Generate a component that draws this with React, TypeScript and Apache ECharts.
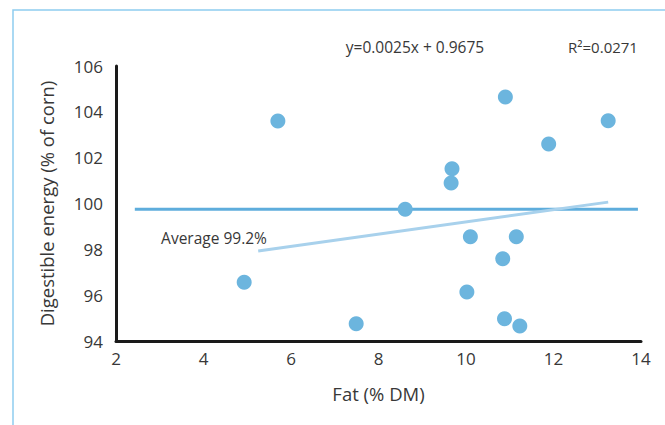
import React, { useEffect, useRef } from "react";
import * as echarts from "echarts";

const fatValues = [5.7, 4.93, 7.49, 10.9, 13.25, 11.89, 9.68, 9.66, 8.61, 10.1, 11.15, 10.84, 10.02, 10.88, 11.23];
const energyValues = [103.6, 96.56, 94.75, 104.65, 103.61, 102.6, 101.52, 100.89, 99.75, 98.55, 98.55, 97.59, 96.14, 94.97, 94.65];
const averageLine = [[2.43, 99.75], [13.93, 99.75]];
const trendLine = [[5.25, 97.93], [13.25, 100.06]];
const xTicks = { min: 2, max: 14, interval: 2 };
const yTicks = { min: 94, max: 106, interval: 2 };
const equationText = "y=0.0025x + 0.9675";
const rSquaredText = "R\u00b2=0.0271";
const averageText = "Average 99.2%";
const xTitle = "Fat (% DM)";
const yTitle = "Digestible energy (% of corn)";

const FONT = "'Open Sans', 'Noto Sans', sans-serif";
const TEXT_COLOR = "#383838";

export default function App() {
  const ref = useRef<HTMLDivElement>(null);
  useEffect(() => {
    if (!ref.current) return;
    const chart = echarts.init(ref.current, null, { renderer: "svg" });
    const points = fatValues.map((x, i) => [x, energyValues[i]]);
    chart.setOption({
      animation: false,
      backgroundColor: "#ffffff",
      textStyle: { fontFamily: FONT },
      grid: { left: 116, right: 24, top: 66, bottom: 84 },
      xAxis: {
        type: "value",
        min: xTicks.min,
        max: xTicks.max,
        interval: xTicks.interval,
        name: xTitle,
        nameLocation: "middle",
        nameGap: 43,
        nameTextStyle: { fontSize: 18.5, color: TEXT_COLOR, fontFamily: FONT },
        axisLine: { show: true, onZero: false, lineStyle: { color: "#1a1a1a", width: 3 } },
        axisTick: { show: false },
        splitLine: { show: false },
        axisLabel: { fontSize: 17, color: TEXT_COLOR, margin: 9, fontFamily: FONT },
      },
      yAxis: {
        type: "value",
        min: yTicks.min,
        max: yTicks.max,
        interval: yTicks.interval,
        name: yTitle,
        nameLocation: "middle",
        nameGap: 60,
        nameTextStyle: { fontSize: 18.5, color: TEXT_COLOR, fontFamily: FONT },
        axisLine: { show: true, onZero: false, lineStyle: { color: "#1a1a1a", width: 3 } },
        axisTick: { show: false },
        splitLine: { show: false },
        axisLabel: { fontSize: 17, color: TEXT_COLOR, margin: 13, fontFamily: FONT },
      },
      graphic: [
        {
          type: "rect",
          shape: { x: 13, y: 10, width: 700, height: 500 },
          style: { fill: "none", stroke: "#8fcdf0", lineWidth: 1.5 },
          silent: true,
        },
        {
          type: "text",
          x: 415,
          y: 47,
          style: { text: equationText, fontSize: 15.5, fill: TEXT_COLOR, fontFamily: FONT, align: "center", verticalAlign: "middle" },
        },
        {
          type: "text",
          x: 603,
          y: 47,
          style: { text: rSquaredText, fontSize: 15, fill: TEXT_COLOR, fontFamily: FONT, align: "center", verticalAlign: "middle" },
        },
        {
          type: "text",
          x: 214,
          y: 238,
          style: { text: averageText, fontSize: 15.5, fill: TEXT_COLOR, fontFamily: FONT, align: "center", verticalAlign: "middle" },
        },
      ],
      series: [
        {
          type: "line",
          data: averageLine,
          symbol: "none",
          lineStyle: { color: "#5eaddc", width: 3 },
          z: 2,
        },
        {
          type: "line",
          data: trendLine,
          symbol: "none",
          lineStyle: { color: "#a8d1ec", width: 3 },
          z: 3,
        },
        {
          type: "scatter",
          data: points,
          symbol: "circle",
          symbolSize: 15,
          itemStyle: { color: "#6cb5de", opacity: 1 },
          z: 4,
        },
      ],
    });
    return () => chart.dispose();
  }, []);
  return (
    <div
      ref={ref}
      style={{ position: "absolute", left: 0, top: 0, width: 665, height: 425 }}
    />
  );
}
